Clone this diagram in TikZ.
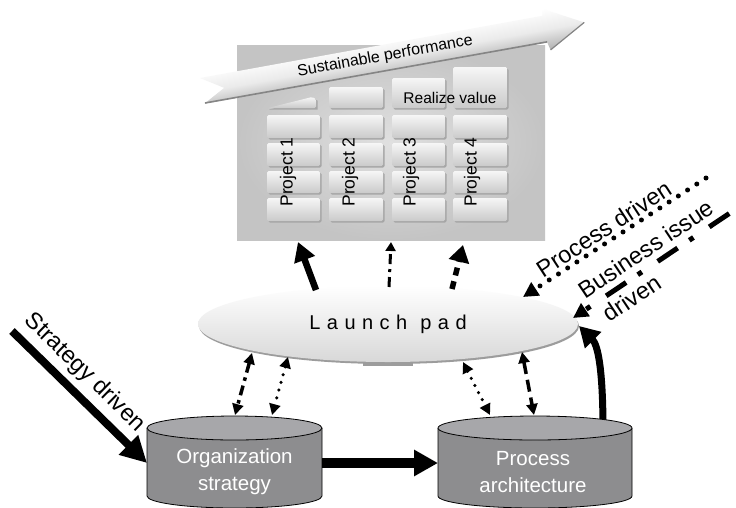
\documentclass[tikz,border=0pt]{standalone}
\usepackage{fontspec}
\setmainfont{Liberation Sans}
\usetikzlibrary{arrows.meta,shapes.geometric}
\definecolor{panelin}{HTML}{E0E0E0}
\definecolor{panelout}{HTML}{C4C4C4}
\definecolor{tiletop}{HTML}{F6F6F6}
\definecolor{tilebot}{HTML}{CACACA}
\definecolor{tileshd}{HTML}{A6A6A6}
\definecolor{ribbot}{HTML}{B0B0B0}
\definecolor{ribline}{HTML}{858585}
\definecolor{padbot}{HTML}{D8D8D8}
\definecolor{padrim}{HTML}{9C9C9C}
\definecolor{cylbodyc}{HTML}{8D8D8F}
\definecolor{cyltopc}{HTML}{A7A7AA}
\newcommand\lpgap{\hspace{6.5pt}}
\begin{document}
\begin{tikzpicture}[x=1pt,y=-1pt,
  lbl/.style={font=\fontsize{23.5}{28}\selectfont, inner sep=0pt},
  cyltxt/.style={font=\fontsize{20.5}{27}\selectfont, text=white, align=center, inner sep=0pt},
  projtxt/.style={font=\fontsize{17.5}{20}\selectfont, rotate=90, inner sep=0pt},
  tileshadow/.style={fill=tileshd, rounded corners=1.5pt},
  tilebox/.style={top color=tiletop, bottom color=tilebot, rounded corners=1.5pt},
  cylbody/.style={fill=cylbodyc, draw=black, line width=0.8pt},
  cyltop/.style={fill=cyltopc, draw=black, line width=0.8pt},
  bigarr/.style={line width=8pt, -{Triangle[length=26pt,width=26pt]}},
  dbl/.style={line width=3.5pt, arrows={Triangle[length=11pt,width=11pt]-Triangle[length=11pt,width=11pt]}},
  dotline/.style={line cap=round, dash pattern=on 0pt off 8pt},
  dashdotline/.style={dash pattern=on 10pt off 5pt on 3.5pt off 5pt},
  dashline/.style={dash pattern=on 12pt off 6pt}
]
\useasboundingbox (0,0) rectangle (736,507);
\clip (0,0) rectangle (736,507);
\fill[white] (0,0) rectangle (736,507);

% ---------- panel ----------
\shade[inner color=panelin, outer color=panelout] (237,45) rectangle (545,240);

% tiles
\foreach \xa/\xb in {267/320,329/383,392/445,453/507}{
  \foreach \ya/\yb in {115/138,143/166,171/193,198/221}{
    \fill[tileshadow] (\xa+1.5,\ya+1.5) rectangle (\xb+1.5,\yb+1.5);
    \shade[tilebox] (\xa,\ya) rectangle (\xb,\yb);
  }}
\foreach \xa/\xb/\ya in {329/383/87,392/445/78,453/507/67}{
  \fill[tileshadow] (\xa+1.5,\ya+1.5) rectangle (\xb+1.5,109.5);
  \shade[tilebox] (\xa,\ya) rectangle (\xb,108);
}
\fill[tileshd] (269,109.5) -- (313,98.5) -- (317.5,100.5) -- (317.5,109.5) -- cycle;
\shade[tilebox] (268,108) -- (312,97) -- (316,99) -- (316,108) -- cycle;

\node[font=\fontsize{15.5}{18}\selectfont, inner sep=0pt] (rv) at (450,98) {Realize value};
\node[projtxt] (p1) at (288,172) {Project 1};
\node[projtxt] (p2) at (350,172) {Project 2};
\node[projtxt] (p3) at (411,172) {Project 3};
\node[projtxt] (p4) at (472,172) {Project 4};

% ---------- ribbon ----------
\begin{scope}[transform canvas={shift={(200,78)}, rotate=10.3}]
  \shade[top color=white, bottom color=ribbot, middle color=white!92!black]
    (0,0) -- (348,0) -- (349,-7) -- (388,14) -- (350,35) -- (348,27) -- (0,26) -- (22,14) -- cycle;
  \draw[ribline, line width=1.6pt] (0.5,25.5) -- (348,26.5);
  \draw[ribline, line width=1.2pt] (350,35) -- (388,14);
  \node[font=\fontsize{16}{19}\selectfont, inner sep=0pt, anchor=base] (sp) at (186,16) {Sustainable performance};
\end{scope}

% ---------- launch pad ----------
\fill[padrim] (363,360) rectangle (413,366);
\fill[padrim] (389,326) ellipse [x radius=190, y radius=38];
\node[ellipse, minimum width=380pt, minimum height=76pt, inner sep=0pt,
      top color=white, bottom color=padbot,
      font=\fontsize{20}{24}\selectfont] (lp) at (388,324)
      {L\lpgap a\lpgap u\lpgap n\lpgap c\lpgap h\lpgap\lpgap p\lpgap a\lpgap d};

% ---------- arrows up to panel ----------
\coordinate (u1a) at (316,290);  \coordinate (u1b) at (298,242);
\coordinate (u2a) at (389,287);  \coordinate (u2b) at (391,242);
\coordinate (u3a) at (452,289);  \coordinate (u3b) at (463,245);
\draw[line width=6.5pt, -{Triangle[length=19pt,width=21pt]}] (u1a) -- (u1b);
\draw[line width=3pt, dash pattern=on 10pt off 5pt on 3pt off 5pt, -{Triangle[length=9pt,width=10pt]}] (u2a) -- (u2b);
\draw[line width=5.5pt, dash pattern=on 8pt off 6pt, -{Triangle[length=17pt,width=20pt]}] (u3a) -- (u3b);

% ---------- curved arrow ----------
\coordinate (c0) at (603,430); \coordinate (c1) at (579,326);
\draw[line width=7pt, -{Triangle[length=20pt,width=22pt]}] (c0) .. controls (603,370) and (598,345) .. (c1);

% ---------- cylinders ----------
\path[cylbody] (147,428) -- (147,496) arc[start angle=180, end angle=0, x radius=87.5, y radius=12] -- (322,428);
\path[cyltop] (234.5,428) ellipse [x radius=87.5, y radius=12];
\path[cylbody] (438,428) -- (438,496) arc[start angle=180, end angle=0, x radius=97, y radius=12] -- (632,428);
\path[cyltop] (535,428) ellipse [x radius=97, y radius=12];
\node[cyltxt] (org) at (234.5,472) {Organization\\strategy};
\node[cyltxt] (proc) at (533,472) {Process\\architecture};

% ---------- arrows between pad and cylinders ----------
\coordinate (a1) at (252,353); \coordinate (a2) at (235,415);
\coordinate (b1) at (288,357); \coordinate (b2) at (272,415);
\coordinate (d1) at (463,362); \coordinate (d2) at (490,415);
\coordinate (e1) at (522,352); \coordinate (e2) at (534,415);
\draw[dbl, dashdotline] (a1) -- (a2);
\draw[dbl, dotline] (b1) -- (b2);
\draw[dbl, dotline] (d1) -- (d2);
\draw[dbl, dashline] (e1) -- (e2);

% ---------- org -> process ----------
\coordinate (o1) at (322,463); \coordinate (o2) at (438,463);
\draw[line width=10pt, -{Triangle[length=24pt,width=25pt]}] (o1) -- (o2);

% ---------- strategy driven ----------
\coordinate (sd0) at (12,331); \coordinate (sd1) at (147,463);
\draw[bigarr] (sd0) -- node[lbl, sloped, above=6pt, pos=0.43] {Strategy driven} (sd1);

% ---------- process driven ----------
\coordinate (pd0) at (706,178); \coordinate (pd1) at (523,297);
\draw[line width=5pt, line cap=round, dash pattern=on 0pt off 11pt, -{Triangle[length=15pt,width=15pt]}]
  (pd0) -- node[lbl, sloped, above=2pt, pos=0.52] {Process driven} (pd1);

% ---------- business issue driven ----------
\coordinate (bi0) at (745,203); \coordinate (bi1) at (573,318);
\draw[line width=5pt, dash pattern=on 5pt off 14pt on 24pt off 19pt, -{Triangle[length=15pt,width=15pt]}]
  (bi0) -- node[lbl, sloped, above=6pt, pos=0.52] {Business issue}
           node[lbl, sloped, below=5pt, pos=0.71] {driven} (bi1);
\end{tikzpicture}
\end{document}
